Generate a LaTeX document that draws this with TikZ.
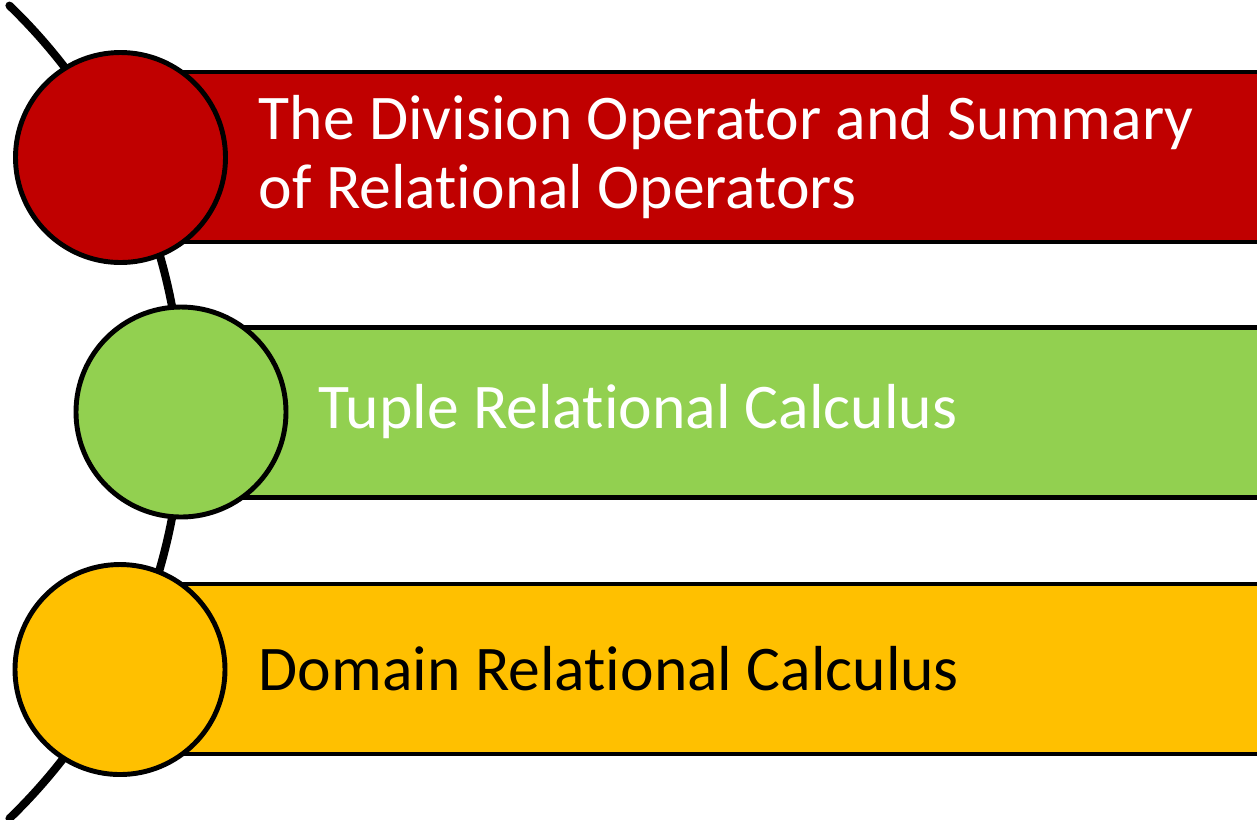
\documentclass[tikz,border=0pt]{standalone}
\usepackage{fontspec}
\setmainfont{Carlito}[Ligatures=NoCommon]
\usepackage{xcolor}
\usepackage{tikz}
\usetikzlibrary{positioning}
\definecolor{topicred}{HTML}{C00000}
\definecolor{topicgreen}{HTML}{92D050}
\definecolor{topicyellow}{HTML}{FFC000}

\begin{document}
\begin{tikzpicture}[font=\fontsize{18.1}{19.9}\selectfont,
  bar/.style={draw,line width=1.4pt,minimum height=1.70cm,minimum width=11.40cm,anchor=west,inner sep=0pt},
  dot/.style={draw,circle,line width=1.4pt,minimum size=2.10cm,inner sep=0pt},
  label/.style={anchor=west,align=left,inner sep=0pt}]
  \useasboundingbox (0,0) rectangle (12.57,-8.19);

  % --- backbone arc ---
  \draw[line width=2.3pt,line cap=round] (-3.83,-4.12) ++(46:5.65) arc[start angle=46,end angle=-46,radius=5.65];

  % --- bars ---
  \node[bar,fill=topicred] (bar1) at (1.20,-1.57) {};
  \node[bar,fill=topicgreen] (bar2) at (1.81,-4.125) {};
  \node[bar,fill=topicyellow] (bar3) at (1.20,-6.69) {};

  % --- circles ---
  \node[dot,fill=topicred] (dot1) at (1.205,-1.575) {};
  \node[dot,fill=topicgreen] (dot2) at (1.81,-4.12) {};
  \node[dot,fill=topicyellow] (dot3) at (1.20,-6.695) {};

  % --- texts ---
  \node[label,text=white] (txt1) at (2.58,-1.57) {The Division Operator and Summary\\of Relational Operators};
  \node[label,text=white] (txt2) at (3.18,-4.12) {Tuple Relational Calculus};
  \node[label,text=black] (txt3) at (2.58,-6.69) {Domain Relational Calculus};
\end{tikzpicture}
\end{document}
